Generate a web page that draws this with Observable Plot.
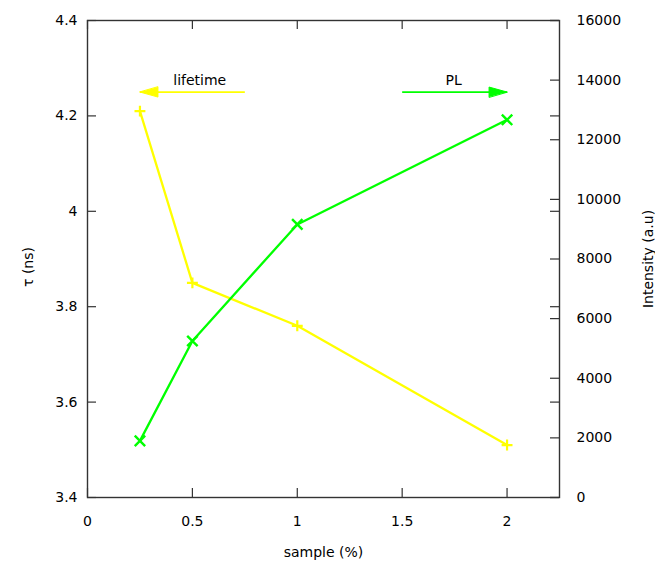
<!DOCTYPE html>
<html><head><meta charset="utf-8">
<script src="https://cdn.jsdelivr.net/npm/d3@7"></script>
<script src="https://cdn.jsdelivr.net/npm/@observablehq/plot@0.6"></script>
<style>
body{margin:0;background:#fff;}
#chart svg{display:block;}
</style>
</head><body><div id="chart"></div>
<script>
// ---- data ----
const samples = [0.25, 0.5, 1, 2];            // sample (%)
const lifetime = [4.21, 3.85, 3.76, 3.51];    // τ (ns), left axis
const intensity = [1900, 5250, 9160, 12670];  // Intensity (a.u), right axis
const xTicks = [0, 0.5, 1, 1.5, 2];
const leftTicks = [3.4, 3.6, 3.8, 4.0, 4.2, 4.4];
const rightTicks = [0, 2000, 4000, 6000, 8000, 10000, 12000, 14000, 16000];
const seriesNames = ["lifetime", "PL"];
const seriesColors = ["#ffff00", "#00ff00"];

// ---- layout ----
const W = 655, H = 565;
const mL = 87, mR = 96, mT = 20, mB = 68;
const plotW = W - mL - mR, plotH = H - mT - mB;
const leftDomain = [3.4, 4.4], rightDomain = [0, 16000];
const toLeft = v => leftDomain[0] + (v - rightDomain[0]) / (rightDomain[1] - rightDomain[0]) * (leftDomain[1] - leftDomain[0]);
const fromLeft = y => rightDomain[0] + (y - leftDomain[0]) / (leftDomain[1] - leftDomain[0]) * (rightDomain[1] - rightDomain[0]);

const life = samples.map((s, i) => ({sample: s, value: lifetime[i]}));
const pl = samples.map((s, i) => ({sample: s, value: toLeft(intensity[i])}));

// annotation arrows (key): from x1 to x2 at level y
const arrows = [
  {name: seriesNames[0], color: seriesColors[0], x1: 0.75, x2: 0.25, y: 4.25, tx: 0.535, dir: 270},
  {name: seriesNames[1], color: seriesColors[1], x1: 1.5, x2: 2.0, y: 4.25, tx: 1.745, dir: 90}
];
const head = {draw(ctx, l) { ctx.moveTo(0, -l); ctx.lineTo(-5, 0); ctx.lineTo(5, 0); ctx.closePath(); }};

const font = "DejaVu Sans, Verdana, sans-serif";
const tickLen = 9;

const chart = Plot.plot({
  width: W, height: H,
  marginLeft: mL, marginRight: mR, marginTop: mT, marginBottom: mB,
  style: {fontFamily: font, fontSize: "14px", color: "#000", background: "#fff"},
  x: {domain: [0, 2.25], axis: null},
  y: {domain: leftDomain, axis: null},
  marks: [
    // inward ticks
    Plot.tickY(leftTicks, {y: d => d, insetRight: plotW - tickLen, stroke: "#333", strokeWidth: 1.2}),
    Plot.tickY(leftTicks, {y: d => d, insetLeft: plotW - tickLen, stroke: "#333", strokeWidth: 1.2}),
    Plot.tickY(rightTicks, {y: d => toLeft(d), insetLeft: plotW - tickLen, stroke: "#333", strokeWidth: 1.2}),
    Plot.tickX(xTicks, {x: d => d, insetTop: plotH - tickLen, stroke: "#333", strokeWidth: 1.2}),
    Plot.tickX(xTicks, {x: d => d, insetBottom: plotH - tickLen, stroke: "#333", strokeWidth: 1.2}),
    // tick labels
    Plot.axisY(leftTicks, {anchor: "left", tickSize: 0, tickPadding: 10, label: null, fontSize: 14, tickFormat: d => String(+d.toFixed(1))}),
    Plot.axisY(rightTicks.map(toLeft), {anchor: "right", tickSize: 0, tickPadding: 17, label: null, fontSize: 14, tickFormat: d => String(Math.round(fromLeft(d)))}),
    Plot.axisX(xTicks, {anchor: "bottom", tickSize: 0, tickPadding: 19, label: null, fontSize: 14, tickFormat: d => String(d)}),
    // axis titles
    Plot.text(["sample (%)"], {frameAnchor: "bottom", textAnchor: "middle", lineAnchor: "middle", dy: 55, fontSize: 14, fill: "#000"}),
    Plot.text(["τ (ns)"], {frameAnchor: "left", textAnchor: "middle", lineAnchor: "middle", dx: -59, dy: 8, rotate: -90, fontSize: 14, fill: "#000"}),
    Plot.text(["Intensity (a.u)"], {frameAnchor: "right", textAnchor: "middle", lineAnchor: "middle", dx: 89, dy: 0, rotate: -90, fontSize: 14, fill: "#000"}),
    // frame
    Plot.frame({stroke: "#333", strokeWidth: 1.4}),
    // data
    Plot.line(life, {x: "sample", y: "value", stroke: seriesColors[0], strokeWidth: 2.3}),
    Plot.dot(life, {x: "sample", y: "value", symbol: "plus", r: 3.6, stroke: seriesColors[0], strokeWidth: 2.2}),
    Plot.line(pl, {x: "sample", y: "value", stroke: seriesColors[1], strokeWidth: 2.3}),
    Plot.dot(pl, {x: "sample", y: "value", symbol: "times", r: 4.8, stroke: seriesColors[1], strokeWidth: 2.4}),
    // key arrows
    Plot.link(arrows, {x1: "x1", x2: "x2", y1: "y", y2: "y", stroke: "color", strokeWidth: 1.8}),
    Plot.vector(arrows, {x: "x2", y: "y", rotate: "dir", length: 18, anchor: "end", shape: head, fill: "color", stroke: "color", strokeWidth: 1}),
    Plot.text(arrows, {x: "tx", y: "y", text: "name", dy: -12, fontSize: 14, fill: "#000"})
  ]
});
document.getElementById("chart").appendChild(chart);
</script>
</body></html>
